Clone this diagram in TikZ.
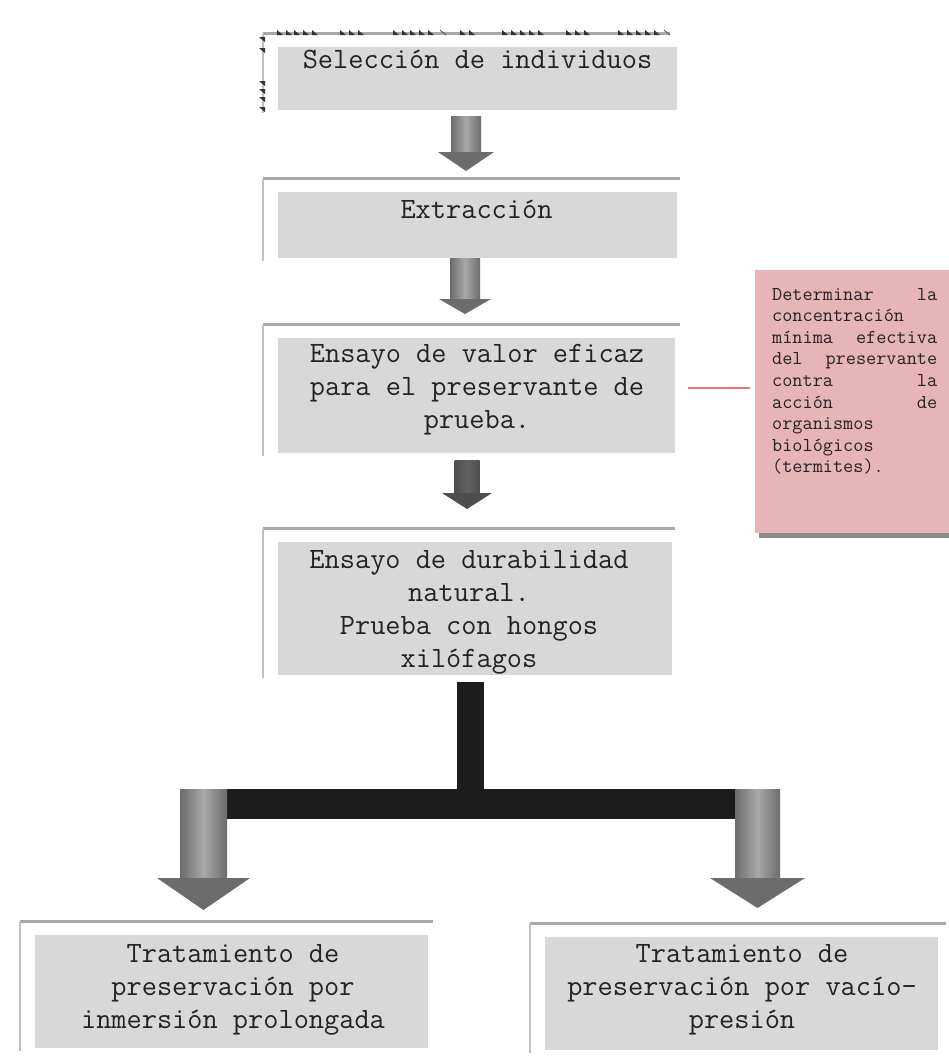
\documentclass[tikz,border=0pt]{standalone}
\usepackage{fontspec}
\usetikzlibrary{calc}

\definecolor{boxgray}{RGB}{216,216,216}
\definecolor{framegray}{RGB}{168,168,168}
\definecolor{frameside}{RGB}{192,192,192}
\definecolor{notepink}{RGB}{231,181,184}
\definecolor{noteshadow}{RGB}{140,140,140}
\definecolor{noteline}{RGB}{226,120,122}
\definecolor{shaftdark}{RGB}{108,108,108}
\definecolor{shaftlight}{RGB}{168,168,168}
\definecolor{stemdark}{RGB}{78,78,78}
\definecolor{stemlight}{RGB}{98,98,98}
\definecolor{teebar}{RGB}{28,28,28}
\definecolor{inkgray}{RGB}{34,34,34}

\tikzset{
  stepbox/.style={fill=boxgray, draw=none, inner sep=0pt},
  steptext/.style={font=\ttfamily\fontsize{29.5}{33.3}\selectfont, text=inkgray, inner sep=0pt, anchor=base},
  notetext/.style={font=\ttfamily\fontsize{19.7}{21.6}\selectfont, text=inkgray, inner sep=0pt, anchor=base west},
  frametop/.style={draw=framegray, line width=3pt},
  frameleft/.style={draw=frameside, line width=2.5pt},
  tick/.style={fill=black!80, draw=none}
}

% frame lines above and left of a step box
\newcommand\stepframe[2]{%
  \draw[frametop] ([xshift=-15pt,yshift=13pt]#1.north west) -- ([xshift=#2,yshift=13pt]#1.north east);
  \draw[frameleft] ([xshift=-15pt,yshift=13pt]#1.north west) -- ([xshift=-15pt,yshift=-3pt]#1.south west);
}

% broad downward arrow: #1 tail, #2 tip, #3 shaft half width, #4 head half width,
% #5 head length, #6 edge colour, #7 centre colour
\newcommand\fatdown[7]{%
  \shade[left color=#6, right color=#6, middle color=#7]
    let \p1=(#1), \p2=(#2) in ({\x1-#3},\y1) rectangle ({\x1+#3},{\y2+#5});
  \fill[#6]
    let \p1=(#1), \p2=(#2) in ({\x1-#4},{\y2+#5}) -- ({\x1+#4},{\y2+#5}) -- (\x1,\y2) -- cycle;
}

\newcommand\jline[1]{\hbox to 165pt{#1}}

\begin{document}
\begin{tikzpicture}[x=1pt,y=-1pt]
\useasboundingbox (0,0) rectangle (949,1058);
\fill[white] (0,0) rectangle (949,1058);

% step boxes
\node[stepbox, minimum width=399pt, minimum height=63pt]  (b1) at (477.5,78.5) {};
\node[stepbox, minimum width=399pt, minimum height=66pt]  (b2) at (477.5,225) {};
\node[stepbox, minimum width=397pt, minimum height=115pt] (b3) at (476.5,395.5) {};
\node[stepbox, minimum width=394pt, minimum height=133pt] (b4) at (475,608.5) {};
\node[stepbox, minimum width=393pt, minimum height=113pt] (b5) at (231.5,991.5) {};
\node[stepbox, minimum width=393pt, minimum height=113pt] (b6) at (741.5,993.5) {};

\stepframe{b1}{-7pt}
\stepframe{b2}{3pt}
\stepframe{b3}{5pt}
\stepframe{b4}{3pt}
\stepframe{b5}{5pt}
\stepframe{b6}{8pt}

% small dark ticks along the first frame
\foreach \tx in {277,286,294,303,312, 340,349,358, 393,402,410,419,428, 460,469,
                 502,511,520,529,538, 566,575,584, 618,627,636,645,654}
  \fill[tick] (\tx,30) -- (\tx,35) -- (\tx+6,35) -- cycle;
\draw[black!70, line width=0.8pt] (440,30) -- (446,35);
\draw[black!70, line width=0.8pt] (664,30) -- (670,35);
\foreach \ty in {37,48,81,89,97,107}
  \fill[tick] (259,\ty) -- (265,\ty) -- (265,\ty+5) -- cycle;

% step texts
\node[steptext] (t1) at (477.5,68) {Selección de individuos};
\node[steptext] (t2) at (476.5,218) {Extracción};
\node[steptext] (t3) at (477,362) {\parbox[t]{400pt}{\centering Ensayo de valor eficaz\\para el preservante de\\prueba.}};
\node[steptext] (t4) at (469,568) {\parbox[t]{400pt}{\centering Ensayo de durabilidad\\natural.\\Prueba con hongos\\xilófagos}};
\node[steptext] (t5) at (233,962) {\parbox[t]{400pt}{\centering Tratamiento de\\preservación por\\inmersión prolongada}};
\node[steptext] (t6) at (742,962) {\parbox[t]{400pt}{\centering Tratamiento de\\preservación por vacío-\\presión}};

% arrows between steps
\coordinate (a1s) at (466,116);   \coordinate (a1e) at (466,171);
\coordinate (a2s) at (465,258);   \coordinate (a2e) at (465,314);
\coordinate (a3s) at (467,460);   \coordinate (a3e) at (467,509);
\fatdown{a1s}{a1e}{15pt}{28pt}{19pt}{shaftdark}{shaftlight}
\fatdown{a2s}{a2e}{15pt}{26pt}{15pt}{shaftdark}{shaftlight}
\fatdown{a3s}{a3e}{12.5pt}{25pt}{16pt}{stemdark}{stemlight}

% branching connector
\coordinate (ts) at (470.5,682);
\coordinate (tj) at (470.5,790);
\coordinate (tl) at (227,804);
\coordinate (tr) at (735,804);
\fill[teebar] ([xshift=-13.5pt]ts) rectangle ([xshift=13.5pt]tj);
\fill[teebar] ([yshift=15pt]tl) rectangle ([yshift=-15pt]tr);

\coordinate (a4s) at (203.5,789); \coordinate (a4e) at (203.5,910);
\coordinate (a5s) at (757.5,789); \coordinate (a5e) at (757.5,908);
\fatdown{a4s}{a4e}{23.5pt}{46.5pt}{32pt}{shaftdark}{shaftlight}
\fatdown{a5s}{a5e}{22.5pt}{47.5pt}{30pt}{shaftdark}{shaftlight}

% side note
\fill[noteshadow] (759,533) rectangle (953,537.5);
\node[fill=notepink, draw=none, minimum width=194pt, minimum height=263pt, inner sep=0pt] (n1) at (852,401.5) {};
\node[notetext] (nt) at (772,300) {\parbox[t]{165pt}{%
  \jline{Determinar\hfill la}
  \jline{concentración\hfill}
  \jline{mínima\hfill efectiva}
  \jline{del\hfill preservante}
  \jline{contra\hfill la}
  \jline{acción\hfill de}
  \jline{organismos\hfill}
  \jline{biológicos\hfill}
  \jline{(termites).\hfill}}};

\coordinate (l1) at (688,388);
\coordinate (l2) at (750,388);
\draw[noteline, line width=1.6pt] (l1) -- (l2);
\end{tikzpicture}
\end{document}
